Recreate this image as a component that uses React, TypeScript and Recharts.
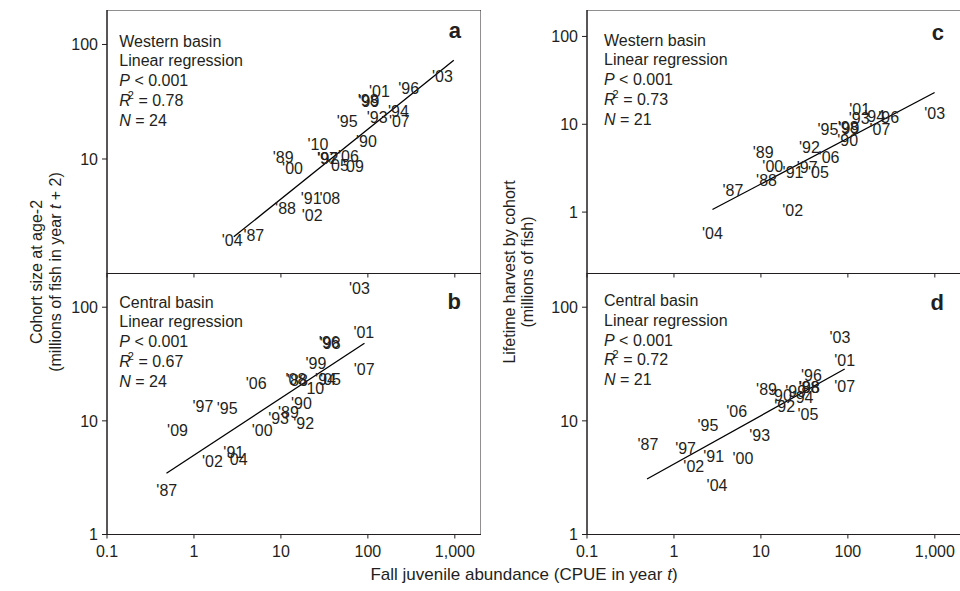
import React from "react";
import { ScatterChart, Scatter, XAxis, YAxis, ReferenceArea } from "recharts";

const FONT = '"Liberation Sans", Arial, Helvetica, sans-serif';
const INK = "#231f20";

const X_TICKS = [0.1, 1, 10, 100, 1000];

// panel a: western basin, cohort size at age-2
const YEARS_A = ["'87", "'88", "'89", "'90", "'91", "'92", "'93", "'94", "'95", "'96", "'97", "'98", "'99", "'00", "'01", "'02", "'03", "'04", "'05", "'06", "'07", "'08", "'09", "'10"];
const CPUE_A = [4.88, 11.3, 10.6, 96.4, 22.3, 34.8, 128, 225, 57.8, 295, 34.3, 101, 103, 13.6, 136, 22.9, 721, 2.75, 45.9, 59.8, 230, 36.5, 68.3, 26.7];
const SIZE_A = [2.15, 3.69, 10.35, 14.1, 4.51, 10.1, 22.9, 26.1, 21.4, 41.0, 10.2, 32.5, 31.5, 8.25, 39.0, 3.18, 52.2, 1.93, 8.81, 10.45, 21.4, 4.51, 8.64, 13.4];

// panel b: central basin, cohort size at age-2
const YEARS_B = YEARS_A;
const CPUE_B = [0.487, 15.5, 12.2, 17.2, 2.87, 18.3, 9.4, 32.6, 2.41, 36.0, 1.27, 36.8, 25.3, 6.1, 89.8, 1.63, 80.1, 3.14, 37.2, 5.2, 90.7, 14.9, 0.647, 23.9];
const SIZE_B = [2.46, 22.5, 11.9, 14.2, 5.24, 9.4, 10.4, 22.9, 12.8, 49.0, 13.3, 48.4, 32.1, 8.3, 60.0, 4.42, 145.5, 4.55, 22.9, 21.4, 28.2, 22.9, 8.3, 19.2];

// panel c: western basin, lifetime harvest
const YEARS_C = ["'87", "'88", "'89", "'90", "'91", "'92", "'93", "'94", "'95", "'96", "'97", "'98", "'99", "'00", "'01", "'02", "'03", "'04", "'05", "'06", "'07"];
const CPUE_C = [4.77, 11.6, 10.6, 99.5, 23.4, 36.1, 135, 203, 59.1, 295, 34.0, 101, 103, 13.7, 137, 23.2, 996, 2.77, 45.9, 60.7, 234];
const HARVEST_C = [1.75, 2.32, 4.72, 6.58, 2.8, 5.45, 11.7, 12.2, 8.81, 11.8, 3.23, 9.1, 8.9, 3.31, 14.7, 1.04, 13.3, 0.57, 2.83, 4.16, 8.81];

// panel d: central basin, lifetime harvest
const YEARS_D = YEARS_C;
const CPUE_D = [0.503, 35.7, 11.6, 17.2, 2.86, 18.8, 9.68, 30.5, 2.46, 38.1, 1.36, 36.1, 25.1, 6.22, 91.9, 1.69, 81.2, 3.13, 34.8, 5.27, 91.9];
const HARVEST_D = [6.24, 19.5, 19.0, 16.6, 4.84, 13.4, 7.39, 16.1, 9.05, 25.3, 5.68, 19.7, 18.3, 4.64, 33.8, 3.95, 53.9, 2.68, 11.4, 12.05, 20.0];

// fitted regression lines (end points)
const FIT_A = [{ x: 2.87, y: 2.09 }, { x: 973, y: 72.7 }];
const FIT_B = [{ x: 0.483, y: 3.46 }, { x: 91.4, y: 48.2 }];
const FIT_C = [{ x: 2.77, y: 1.07 }, { x: 995, y: 23.0 }];
const FIT_D = [{ x: 0.49, y: 3.08 }, { x: 91.9, y: 28.6 }];

const toPoints = (years: string[], xs: number[], ys: number[]) =>
  years.map((label, i) => ({ label, x: xs[i], y: ys[i] }));

const fmtX = (v: number) => (v >= 1000 ? v.toLocaleString("en-US") : String(v));

const YearLabel = (props: any) => (
  <text x={props.cx} y={props.cy} textAnchor="middle" dominantBaseline="central"
    fontSize={16} fill={INK} fontFamily={FONT}>
    {props.payload.label}
  </text>
);

const NoDot = () => <g />;

interface PanelProps {
  left: number;
  top: number;
  plotH: number;
  xAxisH: number;
  showX: boolean;
  yDomain: [number, number];
  yTicks: number[];
  points: { label: string; x: number; y: number }[];
  fit: { x: number; y: number }[];
}

function Panel({ left, top, plotH, xAxisH, showX, yDomain, yTicks, points, fit }: PanelProps) {
  const yW = 60;
  const plotW = 374;
  return (
    <div style={{ position: "absolute", left, top }}>
      <ScatterChart width={yW + plotW} height={plotH + xAxisH} margin={{ top: 0, right: 0, bottom: 0, left: 0 }}>
        <XAxis type="number" dataKey="x" scale="log" domain={[0.1, 2000]} allowDataOverflow
          ticks={X_TICKS} interval={0} height={xAxisH} tickSize={4} tickMargin={7}
          stroke={INK} tickFormatter={showX ? fmtX : () => ""}
          tick={{ fill: INK, fontSize: 16, fontFamily: FONT }} />
        <YAxis type="number" dataKey="y" scale="log" domain={yDomain} allowDataOverflow
          ticks={yTicks} interval={0} width={yW} tickSize={5} tickMargin={4}
          stroke={INK} tick={{ fill: INK, fontSize: 16, fontFamily: FONT }} />
        <ReferenceArea x1={0.1} x2={2000} y1={yDomain[0]} y2={yDomain[1]}
          fill="none" stroke={INK} strokeWidth={1} ifOverflow="visible" />
        <Scatter data={fit} line={{ stroke: "#000", strokeWidth: 1.3 }} lineType="joint"
          shape={NoDot} isAnimationActive={false} />
        <Scatter data={points} shape={YearLabel} isAnimationActive={false} />
      </ScatterChart>
    </div>
  );
}

function StatBlock({ x, y, basin, r2, n }: { x: number; y: number; basin: string; r2: string; n: number }) {
  const gap = 19.8;
  return (
    <text fontFamily={FONT} fontSize={16} fill={INK}>
      <tspan x={x} y={y}>{basin}</tspan>
      <tspan x={x} y={y + gap}>Linear regression</tspan>
      <tspan x={x} y={y + gap * 2}><tspan fontStyle="italic">P</tspan> &lt; 0.001</tspan>
      <tspan x={x} y={y + gap * 3}><tspan fontStyle="italic">R</tspan><tspan fontSize={11} dx={-3} dy={-7}>2</tspan><tspan dy={7}> = {r2}</tspan></tspan>
      <tspan x={x} y={y + gap * 4}><tspan fontStyle="italic">N</tspan> = {n}</tspan>
    </text>
  );
}

export default function App() {
  return (
    <div style={{ position: "absolute", left: 0, top: 0, width: 960, height: 591, overflow: "hidden", background: "#fff" }}>
      <Panel left={46.5} top={9.5} plotH={263.5} xAxisH={6} showX={false} yDomain={[1, 200]} yTicks={[10, 100]}
        points={toPoints(YEARS_A, CPUE_A, SIZE_A)} fit={FIT_A} />
      <Panel left={46.5} top={273} plotH={261.5} xAxisH={40} showX yDomain={[1, 200]} yTicks={[1, 10, 100]}
        points={toPoints(YEARS_B, CPUE_B, SIZE_B)} fit={FIT_B} />
      <Panel left={527.3} top={9.5} plotH={263.5} xAxisH={6} showX={false} yDomain={[0.2, 200]} yTicks={[1, 10, 100]}
        points={toPoints(YEARS_C, CPUE_C, HARVEST_C)} fit={FIT_C} />
      <Panel left={527.3} top={273} plotH={261.5} xAxisH={40} showX yDomain={[1, 200]} yTicks={[1, 10, 100]}
        points={toPoints(YEARS_D, CPUE_D, HARVEST_D)} fit={FIT_D} />

      <svg width={960} height={591} style={{ position: "absolute", left: 0, top: 0, pointerEvents: "none" }}>
        <StatBlock x={119.3} y={46.5} basin="Western basin" r2="0.78" n={24} />
        <StatBlock x={119.3} y={307.5} basin="Central basin" r2="0.67" n={24} />
        <StatBlock x={604} y={45.5} basin="Western basin" r2="0.73" n={21} />
        <StatBlock x={604} y={306} basin="Central basin" r2="0.72" n={21} />

        <g fontFamily={FONT} fontWeight="bold" fontSize={22} fill={INK} textAnchor="end">
          <text x={461} y={38}>a</text>
          <text x={461} y={309}>b</text>
          <text x={944} y={40}>c</text>
          <text x={944} y={310}>d</text>
        </g>

        <g fontFamily={FONT} fontSize={16} fill={INK} textAnchor="middle">
          <text transform="translate(36,272) rotate(-90)" dominantBaseline="central">Cohort size at age-2</text>
          <text transform="translate(55,272) rotate(-90)" dominantBaseline="central">
            (millions of fish in year <tspan fontStyle="italic">t</tspan> + 2)
          </text>
          <text transform="translate(509,272) rotate(-90)" dominantBaseline="central">Lifetime harvest by cohort</text>
          <text transform="translate(527,272) rotate(-90)" dominantBaseline="central">(millions of fish)</text>
          <text x={524} y={580} fontSize={17}>
            Fall juvenile abundance (CPUE in year <tspan fontStyle="italic">t</tspan>)
          </text>
        </g>
      </svg>
    </div>
  );
}
